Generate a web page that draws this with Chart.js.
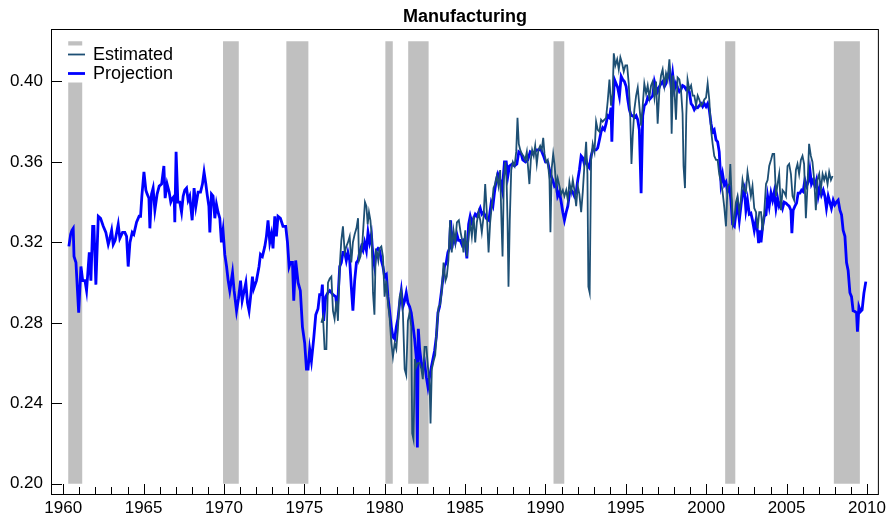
<!DOCTYPE html>
<html><head><meta charset="utf-8">
<script src="https://cdn.jsdelivr.net/npm/chart.js@4/dist/chart.umd.min.js"></script>
<style>html,body{margin:0;padding:0;background:#fff}canvas{display:block}</style>
</head><body>
<canvas id="c" width="890" height="518"></canvas>
<script>
const chartTitle = "Manufacturing";
const seriesLabels = ["Estimated", "Projection"];
const xTickYears = [1960, 1965, 1970, 1975, 1980, 1985, 1990, 1995, 2000, 2005, 2010];
const yTickValues = [0.20, 0.24, 0.28, 0.32, 0.36, 0.40];
const recessionStarts = [1960.31, 1969.94, 1973.88, 1980.04, 1981.46, 1990.50, 2001.18, 2007.94];
const recessionEnds   = [1961.18, 1970.92, 1975.25, 1980.50, 1982.73, 1991.17, 2001.81, 2009.56];
const recessionRange = [0.20, 0.42];

const projYears = [
1960.35,1960.46,1960.54,1960.62,1960.67,1960.79,1960.96,1961.10,1961.21,1961.35,1961.45,1961.62,1961.72,1961.83,1961.91,
1962.03,1962.18,1962.32,1962.49,1962.65,1962.80,1962.90,1963.01,1963.11,1963.23,1963.42,1963.52,1963.69,1963.83,1963.94,
1964.04,1964.15,1964.29,1964.39,1964.56,1964.72,1964.81,1964.89,1965.02,1965.14,1965.22,1965.33,1965.39,1965.49,1965.59,
1965.70,1965.84,1965.97,1966.12,1966.26,1966.34,1966.46,1966.59,1966.69,1966.80,1966.90,1966.94,1967.02,1967.13,1967.25,
1967.36,1967.46,1967.56,1967.67,1967.77,1967.87,1968.02,1968.14,1968.25,1968.39,1968.54,1968.66,1968.76,1968.87,1968.95,
1969.06,1969.12,1969.22,1969.32,1969.43,1969.53,1969.63,1969.74,1969.84,1969.94,1970.05,1970.16,1970.26,1970.36,1970.53,
1970.63,1970.78,1970.90,1971.03,1971.13,1971.23,1971.36,1971.46,1971.56,1971.67,1971.77,1971.85,1972.02,1972.18,1972.27,
1972.39,1972.54,1972.64,1972.74,1972.85,1972.95,1973.05,1973.16,1973.26,1973.36,1973.51,1973.67,1973.84,1973.95,1974.05,
1974.13,1974.26,1974.34,1974.46,1974.61,1974.75,1974.88,1975.02,1975.13,1975.23,1975.33,1975.44,1975.58,1975.71,1975.85,
1975.95,1976.06,1976.12,1976.20,1976.33,1976.47,1976.58,1976.68,1976.78,1976.95,1977.05,1977.20,1977.30,1977.40,1977.51,
1977.61,1977.71,1977.82,1977.92,1978.02,1978.13,1978.24,1978.34,1978.44,1978.55,1978.65,1978.75,1978.86,1978.96,1979.06,
1979.17,1979.27,1979.37,1979.48,1979.58,1979.68,1979.79,1979.89,1979.99,1980.10,1980.20,1980.30,1980.41,1980.51,1980.62,
1980.72,1980.82,1980.93,1981.03,1981.13,1981.24,1981.34,1981.44,1981.55,1981.65,1981.75,1981.86,1981.96,1982.03,1982.09,
1982.17,1982.28,1982.37,1982.48,1982.59,1982.69,1982.79,1982.90,1983.00,1983.10,1983.21,1983.31,1983.41,1983.52,1983.62,
1983.72,1983.83,1983.93,1984.03,1984.10,1984.18,1984.28,1984.39,1984.49,1984.59,1984.70,1984.80,1984.90,1985.01,1985.11,
1985.22,1985.32,1985.42,1985.53,1985.63,1985.73,1985.84,1985.94,1986.04,1986.15,1986.32,1986.48,1986.63,1986.73,1986.83,
1986.94,1987.04,1987.18,1987.31,1987.45,1987.56,1987.66,1987.76,1987.93,1988.07,1988.22,1988.34,1988.49,1988.59,1988.76,
1988.90,1989.05,1989.21,1989.32,1989.46,1989.58,1989.73,1989.88,1990.00,1990.14,1990.25,1990.35,1990.45,1990.56,1990.67,
1990.76,1990.87,1990.98,1991.08,1991.18,1991.29,1991.39,1991.49,1991.60,1991.70,1991.80,1991.91,1992.01,1992.11,1992.22,
1992.32,1992.42,1992.53,1992.63,1992.73,1992.84,1992.94,1993.05,1993.15,1993.25,1993.36,1993.46,1993.56,1993.67,1993.77,
1993.87,1993.98,1994.08,1994.13,1994.20,1994.29,1994.39,1994.49,1994.60,1994.71,1994.80,1994.91,1995.02,1995.12,1995.22,
1995.33,1995.43,1995.53,1995.64,1995.74,1995.84,1995.95,1996.05,1996.15,1996.26,1996.36,1996.46,1996.57,1996.67,1996.78,
1996.88,1996.98,1997.09,1997.19,1997.29,1997.40,1997.50,1997.60,1997.71,1997.81,1997.91,1998.02,1998.12,1998.22,1998.33,
1998.43,1998.53,1998.64,1998.75,1998.84,1998.95,1999.06,1999.16,1999.26,1999.37,1999.47,1999.57,1999.68,1999.78,1999.88,
1999.99,2000.09,2000.19,2000.30,2000.40,2000.50,2000.61,2000.71,2000.81,2000.92,2001.02,2001.13,2001.23,2001.33,2001.44,
2001.54,2001.64,2001.75,2001.85,2001.95,2002.06,2002.16,2002.26,2002.37,2002.47,2002.57,2002.68,2002.78,2002.88,2002.99,
2003.10,2003.20,2003.26,2003.34,2003.41,2003.51,2003.61,2003.72,2003.82,2003.92,2004.03,2004.13,2004.23,2004.34,2004.44,
2004.54,2004.65,2004.75,2004.85,2004.96,2005.06,2005.16,2005.27,2005.33,2005.41,2005.52,2005.62,2005.72,2005.83,2005.93,
2006.03,2006.14,2006.24,2006.35,2006.45,2006.55,2006.66,2006.76,2006.86,2006.97,2007.07,2007.17,2007.28,2007.38,2007.48,
2007.59,2007.69,2007.79,2007.90,2008.00,2008.10,2008.21,2008.32,2008.42,2008.52,2008.63,2008.73,2008.83,2008.94,2009.04,
2009.14,2009.25,2009.35,2009.41,2009.50,2009.60,2009.70,2009.81,2009.93
];
const projValues = [
0.318,0.324,0.326,0.327,0.313,0.310,0.285,0.308,0.301,0.301,0.296,0.315,0.301,0.328,0.328,
0.299,0.333,0.332,0.328,0.325,0.319,0.322,0.326,0.319,0.321,0.329,0.322,0.325,0.325,0.323,
0.308,0.320,0.325,0.324,0.330,0.333,0.333,0.343,0.355,0.346,0.344,0.342,0.327,0.344,0.347,
0.336,0.344,0.348,0.349,0.358,0.342,0.349,0.345,0.340,0.342,0.343,0.330,0.365,0.340,0.340,
0.335,0.343,0.346,0.347,0.341,0.343,0.331,0.347,0.338,0.345,0.345,0.349,0.355,0.349,0.344,
0.338,0.325,0.344,0.343,0.332,0.339,0.335,0.332,0.320,0.326,0.314,0.308,0.301,0.296,0.305,
0.296,0.286,0.292,0.301,0.291,0.295,0.300,0.290,0.286,0.294,0.303,0.297,0.301,0.308,0.314,
0.313,0.318,0.323,0.331,0.320,0.324,0.317,0.333,0.323,0.333,0.332,0.328,0.328,0.320,0.308,
0.310,0.310,0.291,0.311,0.300,0.296,0.278,0.270,0.257,0.257,0.267,0.261,0.272,0.284,0.287,
0.294,0.294,0.299,0.281,0.293,0.295,0.296,0.295,0.294,0.293,0.286,0.308,0.310,0.315,0.315,
0.311,0.315,0.311,0.298,0.286,0.301,0.310,0.311,0.315,0.318,0.316,0.320,0.316,0.325,0.320,
0.324,0.313,0.308,0.316,0.317,0.316,0.311,0.308,0.303,0.304,0.293,0.286,0.278,0.273,0.272,
0.278,0.282,0.290,0.296,0.288,0.291,0.295,0.290,0.288,0.285,0.279,0.272,0.263,0.218,0.277,
0.267,0.260,0.257,0.260,0.253,0.248,0.253,0.258,0.262,0.266,0.273,0.285,0.288,0.295,0.302,
0.308,0.310,0.315,0.317,0.331,0.317,0.323,0.320,0.324,0.321,0.321,0.319,0.321,0.320,0.312,
0.329,0.333,0.330,0.332,0.334,0.333,0.335,0.337,0.334,0.335,0.332,0.331,0.340,0.338,0.345,
0.351,0.354,0.351,0.346,0.360,0.360,0.353,0.358,0.359,0.358,0.359,0.365,0.364,0.361,0.360,
0.361,0.365,0.364,0.365,0.366,0.366,0.366,0.363,0.360,0.360,0.356,0.353,0.351,0.348,0.349,
0.343,0.345,0.340,0.335,0.331,0.335,0.338,0.344,0.346,0.345,0.343,0.345,0.351,0.356,0.363,
0.362,0.359,0.361,0.358,0.357,0.363,0.366,0.366,0.366,0.367,0.371,0.375,0.377,0.376,0.379,
0.383,0.382,0.387,0.370,0.388,0.401,0.399,0.397,0.3925,0.4025,0.401,0.400,0.3975,0.391,0.386,
0.383,0.383,0.382,0.383,0.381,0.376,0.3445,0.383,0.388,0.389,0.392,0.391,0.392,0.393,0.400,
0.397,0.395,0.3975,0.399,0.400,0.3975,0.399,0.4025,0.405,0.398,0.404,0.396,0.399,0.397,0.395,
0.396,0.398,0.3975,0.396,0.397,0.395,0.389,0.388,0.386,0.3875,0.387,0.388,0.389,0.3875,0.389,
0.3875,0.389,0.386,0.379,0.375,0.376,0.371,0.370,0.365,0.3494,0.354,0.3486,0.350,0.3455,0.348,
0.341,0.329,0.328,0.3345,0.3395,0.331,0.338,0.3445,0.347,0.336,0.341,0.334,0.3345,0.331,0.326,
0.331,0.325,0.3196,0.326,0.320,0.328,0.333,0.3337,0.343,0.338,0.3445,0.341,0.345,0.337,0.342,
0.338,0.340,0.337,0.340,0.3395,0.3387,0.338,0.336,0.3246,0.336,0.338,0.3395,0.3445,0.3445,0.346,
0.3453,0.351,0.348,0.350,0.356,0.349,0.351,0.348,0.351,0.343,0.347,0.3436,0.346,0.343,0.337,
0.343,0.340,0.337,0.341,0.3387,0.340,0.341,0.336,0.3337,0.326,0.323,0.310,0.306,0.295,0.293,
0.286,0.2856,0.285,0.2756,0.288,0.2856,0.2864,0.2947,0.3005
];

const estYears = [
1976.06,1976.16,1976.26,1976.37,1976.47,1976.58,1976.68,1976.78,1976.88,1976.99,1977.09,1977.20,1977.30,1977.40,1977.51,
1977.61,1977.71,1977.82,1977.92,1978.02,1978.13,1978.24,1978.34,1978.40,1978.49,1978.61,1978.69,1978.77,1978.86,1978.94,
1979.02,1979.11,1979.19,1979.27,1979.36,1979.44,1979.52,1979.60,1979.68,1979.79,1979.89,1979.99,1980.10,1980.20,1980.30,
1980.41,1980.51,1980.62,1980.72,1980.82,1980.93,1981.03,1981.13,1981.24,1981.34,1981.44,1981.55,1981.65,1981.71,1981.79,
1981.88,1981.96,1982.06,1982.17,1982.28,1982.37,1982.48,1982.59,1982.69,1982.79,1982.85,1982.93,1983.04,1983.14,1983.24,
1983.35,1983.45,1983.55,1983.66,1983.78,1983.86,1983.96,1984.07,1984.17,1984.28,1984.39,1984.49,1984.61,1984.72,1984.82,
1984.90,1985.01,1985.11,1985.22,1985.32,1985.42,1985.53,1985.63,1985.73,1985.84,1985.94,1986.04,1986.15,1986.25,1986.35,
1986.46,1986.56,1986.66,1986.77,1986.87,1986.97,1987.08,1987.18,1987.26,1987.33,1987.41,1987.50,1987.58,1987.64,1987.70,
1987.78,1987.87,1987.97,1988.08,1988.18,1988.26,1988.34,1988.43,1988.53,1988.63,1988.74,1988.84,1988.92,1989.00,1989.09,
1989.17,1989.27,1989.36,1989.46,1989.56,1989.67,1989.77,1989.86,1989.94,1990.04,1990.14,1990.25,1990.31,1990.39,1990.48,
1990.56,1990.67,1990.76,1990.87,1990.98,1991.08,1991.18,1991.29,1991.39,1991.49,1991.60,1991.70,1991.80,1991.91,1992.01,
1992.11,1992.22,1992.32,1992.42,1992.53,1992.61,1992.67,1992.75,1992.84,1992.94,1993.05,1993.15,1993.25,1993.36,1993.46,
1993.56,1993.67,1993.77,1993.87,1993.98,1994.08,1994.18,1994.25,1994.35,1994.46,1994.56,1994.66,1994.77,1994.87,1994.97,
1995.08,1995.18,1995.27,1995.35,1995.43,1995.53,1995.64,1995.74,1995.84,1995.95,1996.05,1996.15,1996.26,1996.36,1996.46,
1996.57,1996.67,1996.78,1996.88,1996.98,1997.09,1997.19,1997.29,1997.40,1997.50,1997.60,1997.71,1997.79,1997.85,1997.94,
1998.02,1998.12,1998.22,1998.33,1998.43,1998.53,1998.59,1998.68,1998.76,1998.84,1998.95,1999.06,1999.16,1999.26,1999.37,
1999.47,1999.57,1999.68,1999.78,1999.88,1999.99,2000.09,2000.19,2000.30,2000.40,2000.50,2000.61,2000.71,2000.81,2000.92,
2001.02,2001.13,2001.23,2001.33,2001.44,2001.50,2001.58,2001.66,2001.75,2001.85,2001.95,2002.06,2002.16,2002.26,2002.37,
2002.47,2002.57,2002.68,2002.78,2002.88,2002.99,2003.10,2003.20,2003.30,2003.41,2003.51,2003.61,2003.72,2003.82,2003.92,
2004.03,2004.13,2004.23,2004.34,2004.44,2004.54,2004.65,2004.75,2004.85,2004.96,2005.06,2005.16,2005.27,2005.37,2005.47,
2005.58,2005.68,2005.78,2005.89,2005.99,2006.09,2006.20,2006.30,2006.40,2006.51,2006.61,2006.72,2006.82,2006.92,2007.03,
2007.13,2007.24,2007.34,2007.44,2007.55,2007.65,2007.76,2007.86
];
const estValues = [
0.280,0.283,0.267,0.267,0.300,0.302,0.303,0.286,0.282,0.291,0.281,0.308,0.321,0.328,0.315,
0.318,0.320,0.323,0.310,0.320,0.324,0.327,0.332,0.311,0.313,0.320,0.330,0.340,0.338,0.329,
0.335,0.331,0.323,0.295,0.284,0.316,0.315,0.311,0.317,0.318,0.313,0.293,0.301,0.290,0.283,
0.270,0.263,0.270,0.267,0.277,0.293,0.296,0.285,0.257,0.254,0.281,0.285,0.278,0.225,0.222,
0.262,0.258,0.260,0.260,0.257,0.252,0.268,0.268,0.258,0.250,0.230,0.257,0.261,0.264,0.277,
0.288,0.289,0.296,0.310,0.301,0.303,0.311,0.331,0.315,0.326,0.320,0.330,0.331,0.325,0.321,
0.315,0.326,0.313,0.323,0.330,0.323,0.333,0.320,0.330,0.335,0.331,0.325,0.333,0.349,0.335,
0.315,0.330,0.338,0.347,0.349,0.353,0.348,0.356,0.331,0.313,0.351,0.360,0.351,0.331,0.298,
0.331,0.356,0.360,0.358,0.365,0.382,0.369,0.366,0.364,0.363,0.361,0.365,0.357,0.349,0.361,
0.366,0.363,0.368,0.359,0.366,0.368,0.366,0.372,0.364,0.360,0.361,0.351,0.325,0.357,0.364,
0.359,0.348,0.352,0.348,0.344,0.346,0.343,0.346,0.341,0.350,0.345,0.351,0.346,0.338,0.348,
0.344,0.335,0.345,0.358,0.370,0.354,0.298,0.295,0.361,0.369,0.365,0.380,0.376,0.375,0.381,
0.380,0.381,0.382,0.390,0.401,0.388,0.394,0.414,0.408,0.411,0.406,0.412,0.409,0.405,0.408,
0.408,0.399,0.384,0.359,0.373,0.386,0.393,0.397,0.388,0.378,0.388,0.399,0.394,0.398,0.392,
0.398,0.400,0.392,0.400,0.379,0.396,0.403,0.406,0.398,0.404,0.401,0.411,0.401,0.374,0.403,
0.396,0.381,0.402,0.401,0.396,0.384,0.358,0.347,0.383,0.401,0.396,0.398,0.393,0.393,0.388,
0.393,0.391,0.388,0.389,0.391,0.392,0.399,0.391,0.376,0.369,0.363,0.361,0.361,0.354,0.350,
0.345,0.337,0.328,0.348,0.349,0.359,0.343,0.329,0.332,0.340,0.343,0.335,0.341,0.351,0.346,
0.345,0.355,0.349,0.343,0.348,0.337,0.335,0.327,0.335,0.335,0.326,0.335,0.349,0.351,0.358,
0.361,0.364,0.364,0.343,0.349,0.354,0.336,0.346,0.345,0.343,0.358,0.359,0.354,0.343,0.341,
0.356,0.359,0.354,0.361,0.363,0.359,0.332,0.348,0.369,0.363,0.360,0.351,0.336,0.351,0.354,
0.346,0.354,0.351,0.354,0.349,0.355,0.351,0.353
];

const FONT = "'Liberation Sans', Arial, Helvetica, sans-serif";
Chart.defaults.font.family = FONT;
Chart.defaults.color = '#000';

const pts = (xs, ys) => xs.map((x, i) => ({x: x, y: ys[i]}));
const COLORS = { est: '#1d4f74', proj: '#0000ff', shade: '#c0c0c0' };
const WIDTHS = { est: 1.8, proj: 2.8 };

const backgroundPlugin = {
  id: 'background',
  beforeDatasetsDraw(chart) {
    const {ctx, chartArea: a, scales: {x, y}} = chart;
    ctx.save();
    // recession shading
    ctx.fillStyle = COLORS.shade;
    const yTop = y.getPixelForValue(recessionRange[1]);
    const yBot = y.getPixelForValue(recessionRange[0]);
    for (let i = 0; i < recessionStarts.length; i++) {
      const x0 = x.getPixelForValue(recessionStarts[i]);
      const x1 = x.getPixelForValue(recessionEnds[i]);
      ctx.fillRect(x0, yTop, x1 - x0, yBot - yTop);
    }
    // legend box
    const lx = a.left + 16, ly = a.top + 15.5;
    ctx.fillStyle = '#fff';
    ctx.fillRect(lx - 4, ly, 130, 37);
    const rows = [
      {label: seriesLabels[0], color: COLORS.est, w: WIDTHS.est, cy: ly + 9},
      {label: seriesLabels[1], color: COLORS.proj, w: WIDTHS.proj, cy: ly + 28}
    ];
    ctx.font = '18px ' + FONT;
    ctx.textBaseline = 'middle';
    ctx.textAlign = 'left';
    rows.forEach(r => {
      ctx.strokeStyle = r.color; ctx.lineWidth = r.w;
      ctx.beginPath(); ctx.moveTo(lx, r.cy); ctx.lineTo(lx + 17, r.cy); ctx.stroke();
      ctx.fillStyle = '#000';
      ctx.fillText(r.label, lx + 25, r.cy + 1);
    });
    ctx.restore();
  },
  afterDraw(chart) {
    const {ctx, chartArea: a, scales: {x, y}} = chart;
    ctx.save();
    ctx.strokeStyle = '#000';
    ctx.lineWidth = 1;
    ctx.strokeRect(a.left - 0.5, a.top - 0.5, a.right - a.left + 1, a.bottom - a.top + 1);
    ctx.beginPath();
    for (let yr = Math.ceil(x.min); yr <= Math.floor(x.max); yr++) {
      const px = Math.round(x.getPixelForValue(yr)) + 0.5;
      const len = (yr % 5 === 0) ? 10 : 7;
      ctx.moveTo(px, a.bottom); ctx.lineTo(px, a.bottom - len);
    }
    yTickValues.forEach(v => {
      const py = Math.round(y.getPixelForValue(v)) + 0.5;
      ctx.moveTo(a.left, py); ctx.lineTo(a.left + 10, py);
    });
    ctx.stroke();
    // title
    ctx.fillStyle = '#000';
    ctx.font = 'bold 18px ' + FONT;
    ctx.textAlign = 'center';
    ctx.textBaseline = 'middle';
    ctx.fillText(chartTitle, (a.left + a.right) / 2, 17);
    ctx.restore();
  }
};

new Chart(document.getElementById('c'), {
  type: 'line',
  data: {
    datasets: [
      {label: seriesLabels[0], data: pts(estYears, estValues), borderColor: COLORS.est, borderWidth: WIDTHS.est,
       pointRadius: 0, tension: 0, fill: false, order: 0},
      {label: seriesLabels[1], data: pts(projYears, projValues), borderColor: COLORS.proj, borderWidth: WIDTHS.proj,
       pointRadius: 0, tension: 0, fill: false, order: 1}
    ]
  },
  options: {
    responsive: false, animation: false, devicePixelRatio: 1,
    layout: {padding: {left: 0, right: 11, top: 30, bottom: 0}},
    plugins: {legend: {display: false}, tooltip: {enabled: false}, title: {display: false}},
    scales: {
      x: {
        type: 'linear', min: 1959.30, max: 2010.68,
        afterBuildTicks: s => { s.ticks = xTickYears.map(v => ({value: v})); },
        afterFit: s => { s.height = 24; },
        grid: {display: false, drawTicks: false},
        border: {display: false},
        ticks: {padding: 4, font: {size: 17}, color: '#000', maxRotation: 0, autoSkip: false,
                callback: v => String(v)}
      },
      y: {
        type: 'linear', min: 0.1949, max: 0.4256,
        afterBuildTicks: s => { s.ticks = yTickValues.map(v => ({value: v})); },
        afterFit: s => { s.width = 52; },
        grid: {display: false, drawTicks: false},
        border: {display: false},
        ticks: {padding: 9, font: {size: 17}, color: '#000', callback: v => Number(v).toFixed(2)}
      }
    }
  },
  plugins: [backgroundPlugin]
});
</script>
</body></html>
